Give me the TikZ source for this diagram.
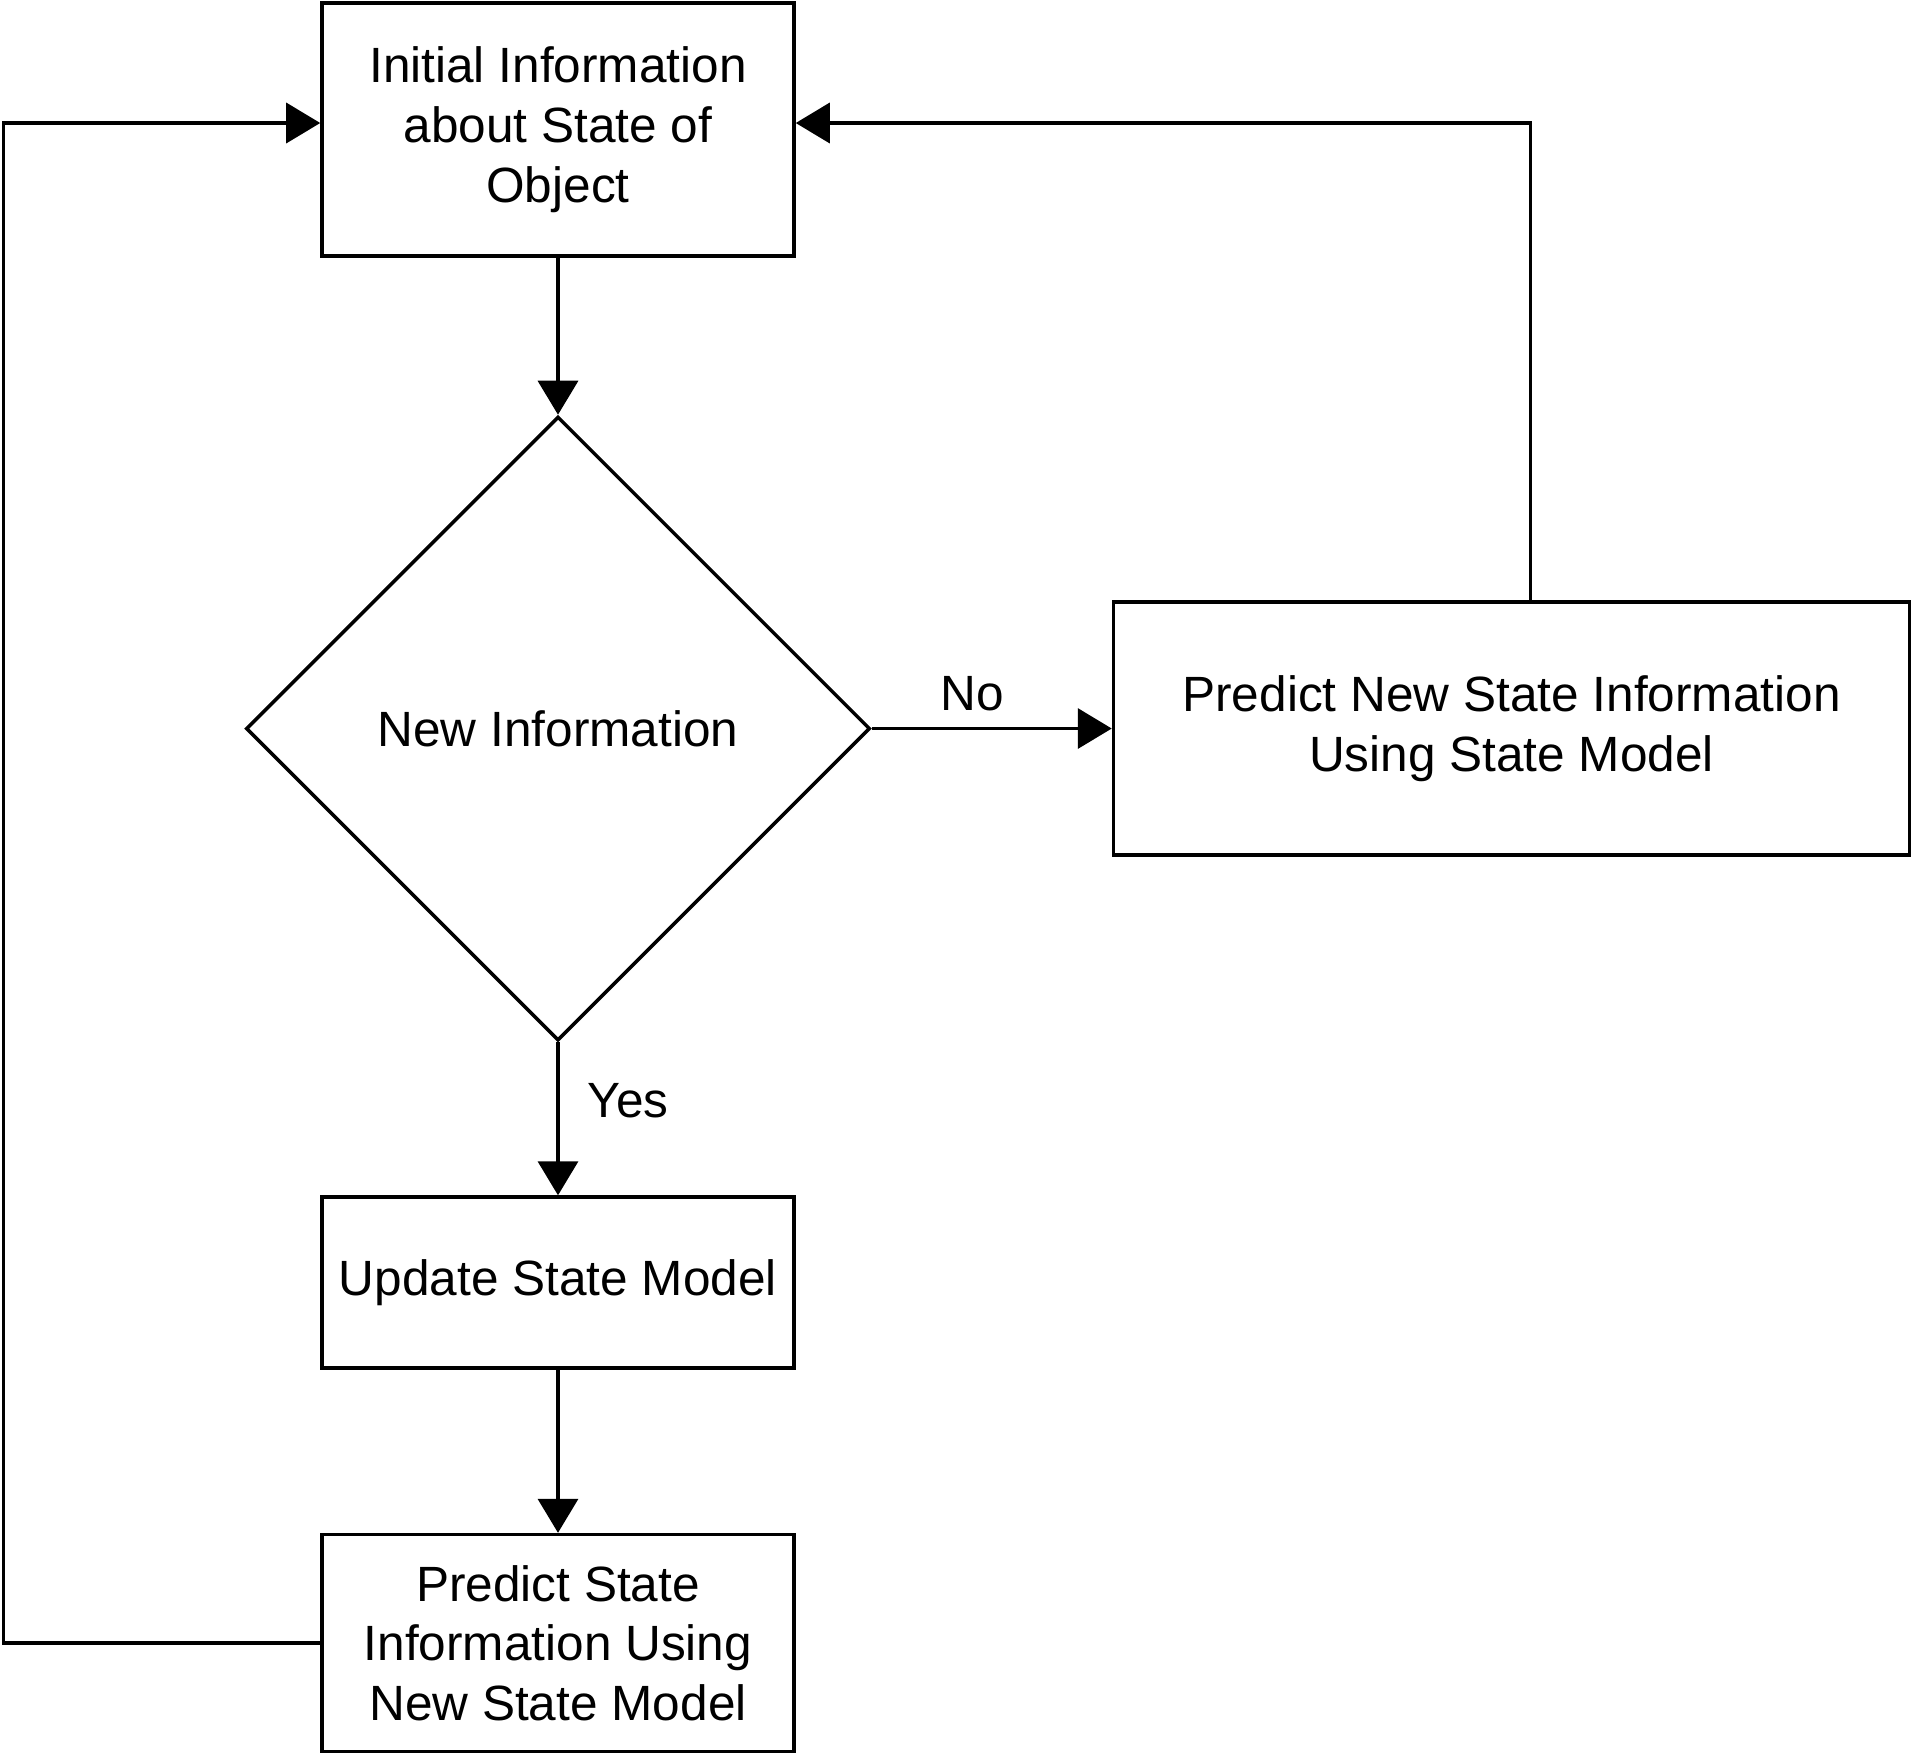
\documentclass[tikz,border=0pt]{standalone}
\usepackage{fontspec}
\setmainfont{Liberation Sans}
\usetikzlibrary{arrows.meta,positioning,shapes.geometric}

\begin{document}
\begin{tikzpicture}[node distance=1.6cm,
  flowbox/.style={draw,line width=1pt,align=center,inner sep=2pt,
    font=\fontsize{14.1}{17}\selectfont},
  decision/.style={draw,diamond,aspect=1,line width=1pt,inner sep=0pt,
    minimum width=6.24cm,minimum height=6.24cm,
    font=\fontsize{14.1}{17}\selectfont},
  flowarrow/.style={-{Triangle[length=0.34cm,width=0.40cm]},line width=1pt},
  flowlabel/.style={font=\fontsize{14.1}{17}\selectfont}]
  \useasboundingbox (0,0) rectangle (19.13,-17.54);
  % Main column
  \node[flowbox,minimum width=4.72cm,minimum height=2.53cm]
    (init) at (5.58,-1.295) {Initial Information\\about State of\\Object};
  \node[decision,below=1.57cm of init]
    (decide) {New Information};
  \node[flowbox,minimum width=4.72cm,minimum height=1.71cm,
    below=1.53cm of decide]
    (update) {Update State Model};
  \node[flowbox,minimum width=4.72cm,minimum height=2.17cm,
    below=1.63cm of update]
    (predict) {Predict State\\Information Using\\New State Model};
  % Side branch
  \node[flowbox,minimum width=7.96cm,minimum height=2.53cm,
    right=2.40cm of decide]
    (predictnew) {Predict New State Information\\Using State Model};
  \coordinate (leftrail) at (0.035,0);
  % Connectors
  \draw[flowarrow] (init) -- (decide);
  \draw[flowarrow] (decide) -- (update)
    node[flowlabel,pos=0.38,right=0.16cm] {Yes};
  \draw[flowarrow] (decide) -- (predictnew)
    node[flowlabel,pos=0.42,above=0.04cm] {No};
  \draw[flowarrow] (update) -- (predict);
  \draw[flowarrow] ([xshift=0.19cm]predictnew.north)
    |- ([yshift=0.065cm]init.east);
  \draw[flowarrow] (predict.west) -- (predict.west -| leftrail)
    |- ([yshift=0.065cm]init.west);
\end{tikzpicture}
\end{document}
